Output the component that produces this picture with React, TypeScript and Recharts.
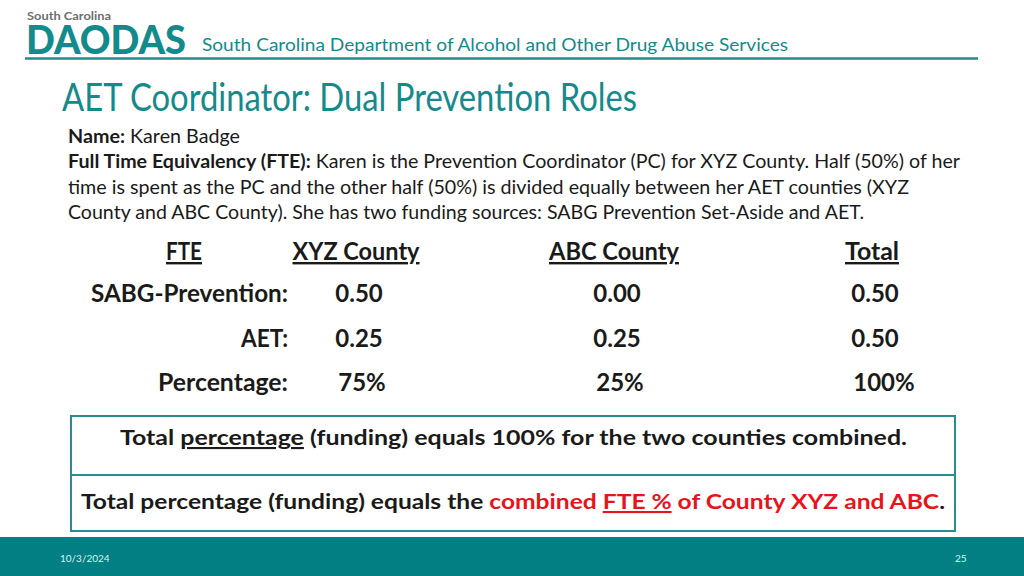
import React from "react";
import { ScatterChart, Scatter, XAxis, YAxis } from "recharts";

// ---------------------------------------------------------------------------
// Data
// ---------------------------------------------------------------------------

const counties = ["XYZ County", "ABC County", "Total"];
const rowLabels = ["SABG-Prevention:", "AET:", "Percentage:"];
const sabgFte = [0.5, 0.0, 0.5];
const aetFte = [0.25, 0.25, 0.5];
const percentages = [75, 25, 100];

const cells = counties.flatMap((county, i) => [
  { county, row: rowLabels[0], text: sabgFte[i].toFixed(2) },
  { county, row: rowLabels[1], text: aetFte[i].toFixed(2) },
  { county, row: rowLabels[2], text: `${percentages[i]}%` },
]);

// measured text widths (px) so the condensed slide font lines up
const labelWidths: Record<string, number> = {
  "XYZ County": 127,
  "ABC County": 130,
  Total: 54,
  "SABG-Prevention:": 197,
  "AET:": 47,
  "Percentage:": 130,
};

const FONT = "Lato, Carlito, 'Open Sans', sans-serif";
const TEAL = "#138a8c";
const INK = "#1a1a1a";
const RED = "#e8141c";

// ---------------------------------------------------------------------------
// Ticks / cell shape
// ---------------------------------------------------------------------------

function HeaderTick({ x, y, payload }: any) {
  return (
    <text
      x={x}
      y={y - 3}
      textAnchor="middle"
      fontFamily={FONT}
      fontWeight={700}
      fontSize={24}
      fill={INK}
      textLength={labelWidths[payload.value]}
      lengthAdjust="spacingAndGlyphs"
      textDecoration="underline"
    >
      {payload.value}
    </text>
  );
}

function RowTick({ x, y, payload }: any) {
  return (
    <text
      x={x + 69}
      y={y + 9}
      textAnchor="end"
      fontFamily={FONT}
      fontWeight={700}
      fontSize={24}
      fill={INK}
      textLength={labelWidths[payload.value]}
      lengthAdjust="spacingAndGlyphs"
    >
      {payload.value}
    </text>
  );
}

function CellText({ cx, cy, payload }: any) {
  // the percentage row sits a little right of the FTE figures on the slide
  const shift = payload.text.endsWith("%") ? (payload.text.length > 3 ? 12 : 6) : 3;
  return (
    <text
      x={cx + shift}
      y={cy + 9}
      textAnchor="middle"
      fontFamily={FONT}
      fontWeight={700}
      fontSize={24}
      fill={INK}
    >
      {payload.text}
    </text>
  );
}

// ---------------------------------------------------------------------------
// Static slide layer
// ---------------------------------------------------------------------------

function SlideBackground() {
  return (
    <svg
      width={1024}
      height={576}
      style={{ position: "absolute", left: 0, top: 0, whiteSpace: "pre" }}
    >
      <rect x={0} y={0} width={1024} height={576} fill="#ffffff" />

      {/* logo */}
      <text x={27} y={20} fontFamily={FONT} fontWeight={700} fontSize={11} fill="#6d6e71"
        textLength={84} lengthAdjust="spacingAndGlyphs">
        South Carolina
      </text>
      <text x={26} y={54} fontFamily={FONT} fontWeight={900} fontSize={39} fill={TEAL}
        textLength={160} lengthAdjust="spacingAndGlyphs">
        DAODAS
      </text>
      <text x={202} y={51} fontFamily={FONT} fontSize={18} fill={TEAL}
        textLength={586} lengthAdjust="spacingAndGlyphs">
        South Carolina Department of Alcohol and Other Drug Abuse Services
      </text>
      <line x1={25} x2={978} y1={58.5} y2={58.5} stroke="#1b8e90" strokeWidth={2.5} />

      {/* title */}
      <text x={62} y={111} fontFamily={FONT} fontSize={38} fill={TEAL}
        textLength={575} lengthAdjust="spacingAndGlyphs">
        AET Coordinator: Dual Prevention Roles
      </text>

      {/* body */}
      <g fontFamily={FONT} fontSize={19} fill={INK}>
        <text x={68} y={143} textLength={172} lengthAdjust="spacingAndGlyphs">
          <tspan fontWeight={700}>Name:</tspan>
          <tspan> Karen Badge</tspan>
        </text>
        <text x={68} y={168} textLength={892} lengthAdjust="spacingAndGlyphs">
          <tspan fontWeight={700}>Full Time Equivalency (FTE):</tspan>
          <tspan> Karen is the Prevention Coordinator (PC) for XYZ County.  Half (50%) of her</tspan>
        </text>
        <text x={68} y={194} textLength={841} lengthAdjust="spacingAndGlyphs">
          time is spent as the PC and the other half (50%) is divided equally between her AET counties (XYZ
        </text>
        <text x={68} y={219} textLength={796} lengthAdjust="spacingAndGlyphs">
          County and ABC County).  She has two funding sources: SABG Prevention Set-Aside and AET.
        </text>
      </g>

      {/* table corner header */}
      <text x={184} y={260} textAnchor="middle" fontFamily={FONT} fontWeight={700} fontSize={24}
        fill={INK} textLength={36} lengthAdjust="spacingAndGlyphs" textDecoration="underline">
        FTE
      </text>

      {/* summary box */}
      <rect x={71} y={416} width={884} height={115} fill="none" stroke="#2a8b93" strokeWidth={2} />
      <line x1={71} x2={955} y1={475} y2={475} stroke="#2a8b93" strokeWidth={2} />
      <g fontFamily={FONT} fontWeight={700} fontSize={21} fill={INK}>
        <text x={120} y={445} textLength={787} lengthAdjust="spacingAndGlyphs">
          <tspan>Total </tspan>
          <tspan textDecoration="underline">percentage</tspan>
          <tspan> (funding) equals 100% for the two counties combined.</tspan>
        </text>
        <text x={81} y={509} textLength={864} lengthAdjust="spacingAndGlyphs">
          <tspan>Total percentage (funding) equals the </tspan>
          <tspan fill={RED}>combined </tspan>
          <tspan fill={RED} textDecoration="underline">FTE %</tspan>
          <tspan fill={RED}> of County XYZ and ABC</tspan>
          <tspan>.</tspan>
        </text>
      </g>

      {/* footer */}
      <rect x={0} y={537} width={1024} height={39} fill="#027f83" />
      <text x={60} y={562} fontFamily={FONT} fontSize={10} fill="#dff0f0">10/3/2024</text>
      <text x={955} y={562} fontFamily={FONT} fontSize={10} fill="#dff0f0">25</text>
    </svg>
  );
}

// ---------------------------------------------------------------------------
// Component
// ---------------------------------------------------------------------------

export default function App() {
  return (
    <div
      style={{
        position: "fixed",
        left: 0,
        top: 0,
        width: 1024,
        height: 576,
        overflow: "hidden",
        background: "#fff",
      }}
    >
      <SlideBackground />
      <div style={{ position: "absolute", left: 0, top: 0 }}>
        <ScatterChart
          width={1024}
          height={576}
          margin={{ top: 241, right: 23, bottom: 172, left: 87 }}
        >
          <XAxis
            type="category"
            dataKey="county"
            orientation="top"
            height={30}
            allowDuplicatedCategory={false}
            axisLine={false}
            tickLine={false}
            tick={<HeaderTick />}
            interval={0}
          />
          <YAxis
            type="category"
            dataKey="row"
            width={140}
            reversed
            allowDuplicatedCategory={false}
            axisLine={false}
            tickLine={false}
            tick={<RowTick />}
            interval={0}
          />
          <Scatter data={cells} shape={<CellText />} isAnimationActive={false} />
        </ScatterChart>
      </div>
    </div>
  );
}
